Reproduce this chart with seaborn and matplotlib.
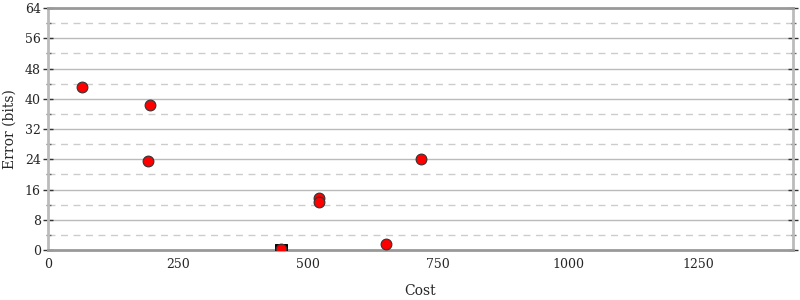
import matplotlib
matplotlib.use("Agg")
import matplotlib.pyplot as plt
import seaborn as sns
import pandas as pd
import numpy as np

cost = [65, 196, 192, 521, 521, 650, 717, 448]
error = [43.1, 38.4, 23.5, 13.8, 12.7, 1.6, 24.1, 0.2]
best_cost = [448]
best_error = [0.0]

sns.set_style("white")
plt.rcParams['font.family'] = ['DejaVu Serif']

df = pd.DataFrame({"Cost": cost, "Error (bits)": error})
dfb = pd.DataFrame({"Cost": best_cost, "Error (bits)": best_error})

fig = plt.figure(figsize=(8, 3), dpi=100)
ax = fig.add_axes([0.06, 0.1667, 0.931, 0.8063])

ax.set_xlim(0, 1432)
ax.set_ylim(0, 64)
major = np.arange(0, 65, 8)
minor = np.arange(4, 64, 8)
for y in major[1:-1]:
    ax.axhline(y, color="#bbbbbb", lw=1, zorder=0)
for y in minor:
    ax.axhline(y, color="#cccccc", lw=1, ls=(0, (5, 4)), zorder=0)

sns.scatterplot(data=dfb, x="Cost", y="Error (bits)", ax=ax, marker="s", color="black",
                s=70, edgecolor="black", zorder=3, clip_on=True)
sns.scatterplot(data=df, x="Cost", y="Error (bits)", ax=ax, color="#ff0000",
                s=60, edgecolor="#333333", linewidth=0.8, zorder=4)

ax.set_xticks([0, 250, 500, 750, 1000, 1250])
ax.set_yticks(major)
ax.set_yticks(minor, minor=True)
ax.tick_params(axis="x", direction="inout", length=8, width=1, color="#333333", labelsize=9, pad=2)
ax.tick_params(axis="y", which="major", direction="inout", length=7.2, width=1, color="#333333",
               labelsize=9, right=True, left=True, pad=1.5)
ax.tick_params(axis="y", which="minor", direction="inout", length=3.6, width=1, color="#666666",
               right=True, left=True)

for s in ["left", "right"]:
    ax.spines[s].set_color("#bbbbbb")
    ax.spines[s].set_linewidth(2)
for s in ["top", "bottom"]:
    ax.spines[s].set_color("#999999")
    ax.spines[s].set_linewidth(2)

ax.set_xlabel("Cost", fontsize=10, labelpad=9)
ax.set_ylabel("Error (bits)", fontsize=10, labelpad=6)

fig.savefig("out.png", dpi=100)
